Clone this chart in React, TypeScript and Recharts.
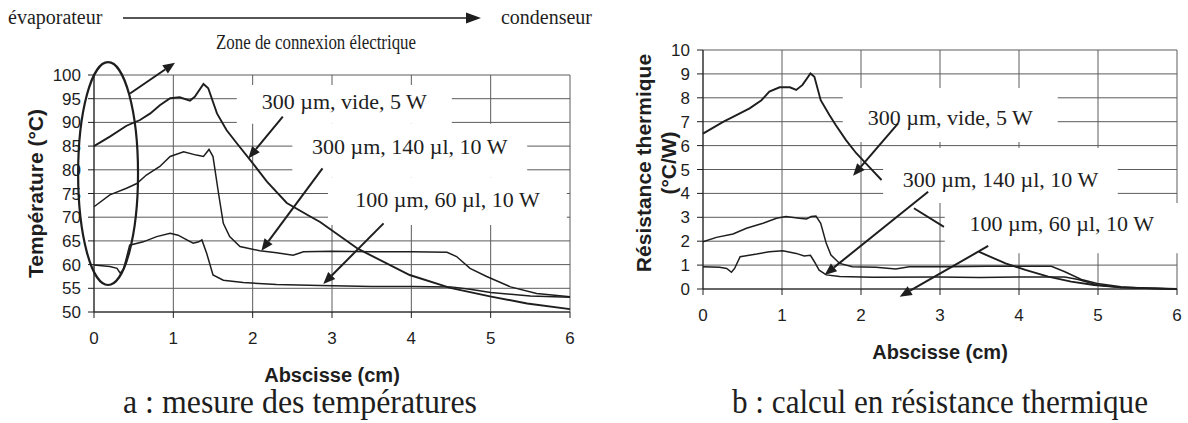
import React from 'react'
import { LineChart, Line, XAxis, YAxis, CartesianGrid, ReferenceArea, ReferenceLine } from 'recharts'

const xTicks = [0, 1, 2, 3, 4, 5, 6]
const tempTicks = [50, 55, 60, 65, 70, 75, 80, 85, 90, 95, 100]
const resTicks = [0, 1, 2, 3, 4, 5, 6, 7, 8, 9, 10]

const seriesNames = ['300 µm, vide, 5 W', '300 µm, 140 µl, 10 W', '100 µm, 60 µl, 10 W']

// a : température (°C) en fonction de l'abscisse (cm)
const tempVide: [number, number][] = [
  [0, 85.0], [0.2, 87.0], [0.41, 89.3], [0.58, 90.5], [0.71, 91.9], [0.83, 93.6], [0.96, 95.1],
  [1.08, 95.3], [1.21, 94.6], [1.27, 95.4], [1.38, 98.1], [1.44, 97.2], [1.55, 91.9], [1.67, 88.4],
  [1.8, 85.6], [2.0, 81.4], [2.18, 77.5], [2.43, 73.0], [2.72, 70.2], [2.85, 69.0], [3.33, 63.3],
  [3.98, 57.8], [4.49, 55.1], [4.99, 53.3], [5.46, 51.8], [6.0, 50.6],
]
const temp140: [number, number][] = [
  [0, 72.2], [0.2, 74.7], [0.41, 76.1], [0.54, 77.1], [0.66, 78.9], [0.83, 80.7], [0.96, 82.8],
  [1.13, 83.8], [1.29, 83.1], [1.38, 82.8], [1.45, 84.3], [1.5, 82.8], [1.57, 75.0], [1.63, 68.7],
  [1.71, 65.9], [1.84, 63.8], [2.09, 62.9], [2.3, 62.5], [2.51, 62.0], [2.64, 62.7], [3.0, 62.8],
  [3.5, 62.7], [4.0, 62.7], [4.45, 62.6], [4.57, 61.7], [4.74, 59.2], [4.95, 57.5], [5.25, 55.3],
  [5.58, 53.9], [6.0, 53.2],
]
const temp60: [number, number][] = [
  [0, 59.9], [0.2, 59.6], [0.29, 59.2], [0.33, 58.2], [0.37, 58.9], [0.45, 64.1], [0.62, 64.8],
  [0.79, 65.9], [0.96, 66.6], [1.06, 66.2], [1.17, 65.2], [1.25, 64.5], [1.32, 64.8], [1.36, 65.2],
  [1.42, 62.4], [1.5, 57.8], [1.63, 56.7], [1.88, 56.2], [2.3, 55.8], [2.85, 55.6], [3.5, 55.4],
  [4.0, 55.4], [4.5, 55.3], [4.74, 54.8], [5.0, 54.1], [5.5, 53.4], [6.0, 53.1],
]

// b : résistance thermique (°C/W) ; null = courbe masquée par les étiquettes
const resVide: [number, number | null][] = [
  [0, 6.5], [0.26, 7.0], [0.38, 7.2], [0.59, 7.56], [0.74, 7.9], [0.84, 8.26], [0.97, 8.44],
  [1.1, 8.44], [1.18, 8.33], [1.26, 8.54], [1.36, 9.02], [1.41, 8.88], [1.49, 7.9], [1.6, 7.28],
  [1.68, 6.86], [1.81, 6.23], [1.94, 5.68], [2.1, 5.12], [2.26, 4.56], [2.45, null], [2.67, 3.38],
  [3.05, 2.6], [3.25, null], [3.49, 1.56], [3.83, 1.07], [4.08, 0.8], [4.37, 0.52], [4.66, 0.31],
  [4.95, 0.17], [5.29, 0.07], [6.0, 0.0],
]
const res140: [number, number][] = [
  [0, 1.98], [0.17, 2.16], [0.38, 2.3], [0.55, 2.54], [0.76, 2.75], [0.93, 2.96], [1.05, 3.03],
  [1.22, 2.96], [1.31, 2.93], [1.37, 3.03], [1.43, 3.05], [1.49, 2.75], [1.56, 1.91], [1.62, 1.42],
  [1.73, 1.07], [1.89, 0.93], [2.19, 0.91], [2.44, 0.84], [2.61, 0.93], [3.11, 0.93], [3.6, 0.95],
  [4.0, 0.95], [4.41, 0.95], [4.58, 0.72], [4.79, 0.4], [4.99, 0.23], [5.29, 0.09], [5.59, 0.03],
  [6.0, 0.0],
]
const res60: [number, number][] = [
  [0, 0.93], [0.21, 0.91], [0.3, 0.86], [0.36, 0.7], [0.4, 0.86], [0.47, 1.35], [0.68, 1.46],
  [0.84, 1.56], [1.01, 1.6], [1.18, 1.49], [1.28, 1.38], [1.36, 1.41], [1.41, 1.14], [1.47, 0.79],
  [1.56, 0.59], [1.73, 0.52], [2.15, 0.49], [2.98, 0.5], [3.5, 0.48], [4.0, 0.5], [4.58, 0.5],
  [4.75, 0.4], [4.99, 0.17], [5.29, 0.06], [6.0, 0.0],
]

// annotations, in data units: white box [x1, x2, y1, y2], text offset, arrow from -> to
const tempNotes = [
  { text: seriesNames[0], box: [1.8, 4.51, 89.7, 97.9], off: [0, -2.5], arrow: [[2.38, 91.2], [1.945, 82.4]] },
  { text: seriesNames[1], box: [2.5, 5.46, 78.3, 89.7], off: [0, -4], arrow: [[2.88, 80.3], [2.11, 62.9]] },
  { text: seriesNames[2], box: [2.95, 5.96, 68.35, 78.3], off: [0, -1.5], arrow: [[3.65, 68.7], [2.89, 55.9]] },
]
const resNotes = [
  { text: seriesNames[0], box: [1.77, 4.49, 6.15, 8.41], off: [0, 2], arrow: [[2.47, 6.93], [1.9, 4.74]] },
  { text: seriesNames[1], box: [2.28, 5.25, 3.6, 5.9], off: [0, 4.5], arrow: [[2.85, 4.07], [1.54, 0.59]] },
  { text: seriesNames[2], box: [3.06, 6.16, 1.5, 3.6], off: [-5.5, -5], arrow: [[3.61, 1.8], [2.49, -0.32]] },
]

const SANS = '"Liberation Sans", Arial, Helvetica, sans-serif'
const SERIF = '"Liberation Serif", "Times New Roman", Times, serif'
const INK = '#1e1e1e'
const GRID = '#5c5c5c'

const toPoints = (arr: [number, number | null][]) => arr.map(([x, y]) => ({ x, y }))

const arrowShape = (p: any) => {
  const { x1, y1, x2, y2 } = p
  const a = Math.atan2(y2 - y1, x2 - x1)
  const L = 12
  const W = 5
  const bx = x2 - L * Math.cos(a)
  const by = y2 - L * Math.sin(a)
  const nx = -Math.sin(a) * W
  const ny = Math.cos(a) * W
  return (
    <g>
      <line x1={x1} y1={y1} x2={bx} y2={by} stroke={INK} strokeWidth={2} />
      <polygon points={`${x2},${y2} ${bx + nx},${by + ny} ${bx - nx},${by - ny}`} fill={INK} />
    </g>
  )
}

const ellipseShape = (p: any) => (
  <ellipse
    cx={p.x + p.width / 2}
    cy={p.y + p.height / 2}
    rx={Math.abs(p.width) / 2}
    ry={Math.abs(p.height) / 2}
    fill="none"
    stroke={INK}
    strokeWidth={2.2}
  />
)

const noteLabel = (text: string, dx: number, dy: number) => (p: any) => {
  const vb = p.viewBox
  return (
    <text
      x={vb.x + vb.width / 2 + dx}
      y={vb.y + vb.height / 2 + dy}
      textAnchor="middle"
      dominantBaseline="central"
      fontFamily={SERIF}
      fontSize={22}
      fill={INK}
    >
      {text}
    </text>
  )
}

const xTitle = (dy: number) => (p: any) => {
  const vb = p.viewBox
  return (
    <text
      x={vb.x + vb.width / 2}
      y={vb.y + dy}
      textAnchor="middle"
      dominantBaseline="central"
      fontFamily={SANS}
      fontWeight="bold"
      fontSize={20}
      fill={INK}
    >
      Abscisse (cm)
    </text>
  )
}

const yTitle = (lines: string[], dx: number, dyc: number, gap: number) => (p: any) => {
  const vb = p.viewBox
  const cy = vb.y + vb.height / 2 + dyc
  return (
    <g>
      {lines.map((t, i) => {
        const x = vb.x + dx + i * gap
        return (
          <text
            key={i}
            x={x}
            y={cy}
            transform={`rotate(-90 ${x} ${cy})`}
            textAnchor="middle"
            dominantBaseline="central"
            fontFamily={SANS}
            fontWeight="bold"
            fontSize={21}
            fill={INK}
          >
            {t}
          </text>
        )
      })}
    </g>
  )
}

const tickStyle = { fontSize: 17, fill: INK, fontFamily: SANS }

export default function App() {
  const renderBoxes = (notes: typeof tempNotes) =>
    notes.map((n, i) => (
      <ReferenceArea
        key={'box' + i}
        x1={n.box[0]}
        x2={n.box[1]}
        y1={n.box[2]}
        y2={n.box[3]}
        fill="#ffffff"
        fillOpacity={1}
        stroke="none"
        ifOverflow="visible"
        label={noteLabel(n.text, n.off[0], n.off[1])}
      />
    ))
  const renderArrows = (notes: typeof tempNotes) =>
    notes.map((n, i) => (
      <ReferenceLine
        key={'arr' + i}
        segment={[
          { x: n.arrow[0][0], y: n.arrow[0][1] },
          { x: n.arrow[1][0], y: n.arrow[1][1] },
        ]}
        shape={arrowShape}
        ifOverflow="visible"
      />
    ))

  return (
    <div style={{ position: 'absolute', left: 0, top: 0, width: 1188, height: 423, background: '#fff' }}>
      <div style={{ position: 'absolute', left: 0, top: 0 }}>
        <LineChart width={600} height={423} margin={{ top: 75, right: 30, bottom: 51, left: 34 }}>
          <CartesianGrid stroke={GRID} strokeWidth={1} />
          <XAxis
            dataKey="x"
            type="number"
            domain={[0, 6]}
            ticks={xTicks}
            interval={0}
            height={60}
            tick={tickStyle}
            tickSize={6}
            tickMargin={14}
            stroke={INK}
            label={xTitle(63)}
          />
          <YAxis
            type="number"
            domain={[50, 100]}
            ticks={tempTicks}
            interval={0}
            width={60}
            tick={tickStyle}
            tickSize={6}
            tickMargin={7}
            stroke={INK}
            label={yTitle(['Température (°C)'], 1, 0, 0)}
          />
          {renderBoxes(tempNotes)}
          <ReferenceArea x1={-0.2} x2={0.555} y1={55.7} y2={102.7} ifOverflow="visible" shape={ellipseShape} />
          <Line data={toPoints(tempVide)} dataKey="y" name={seriesNames[0]} type="linear" stroke={INK} strokeWidth={1.9} dot={false} activeDot={false} isAnimationActive={false} />
          <Line data={toPoints(temp140)} dataKey="y" name={seriesNames[1]} type="linear" stroke={INK} strokeWidth={1.5} dot={false} activeDot={false} isAnimationActive={false} />
          <Line data={toPoints(temp60)} dataKey="y" name={seriesNames[2]} type="linear" stroke={INK} strokeWidth={1.5} dot={false} activeDot={false} isAnimationActive={false} />
          {renderArrows(tempNotes)}
          <ReferenceLine segment={[{ x: 0.454, y: 96.1 }, { x: 1.021, y: 102.6 }]} shape={arrowShape} ifOverflow="visible" />
        </LineChart>
      </div>

      <div style={{ position: 'absolute', left: 600, top: 0 }}>
        <LineChart width={588} height={423} margin={{ top: 50, right: 11, bottom: 74, left: 43 }}>
          <CartesianGrid stroke={GRID} strokeWidth={1} />
          <XAxis
            dataKey="x"
            type="number"
            domain={[0, 6]}
            ticks={xTicks}
            interval={0}
            height={60}
            tick={tickStyle}
            tickSize={6}
            tickMargin={14}
            stroke={INK}
            label={xTitle(63)}
          />
          <YAxis
            type="number"
            domain={[0, 10]}
            ticks={resTicks}
            interval={0}
            width={60}
            tick={tickStyle}
            tickSize={6}
            tickMargin={7}
            stroke={INK}
            label={yTitle(['Résistance thermique', '(°C/W)'], 0, -6.5, 25)}
          />
          {renderBoxes(resNotes)}
          <Line data={toPoints(resVide)} dataKey="y" name={seriesNames[0]} type="linear" stroke={INK} strokeWidth={1.9} dot={false} activeDot={false} connectNulls={false} isAnimationActive={false} />
          <Line data={toPoints(res140)} dataKey="y" name={seriesNames[1]} type="linear" stroke={INK} strokeWidth={1.5} dot={false} activeDot={false} isAnimationActive={false} />
          <Line data={toPoints(res60)} dataKey="y" name={seriesNames[2]} type="linear" stroke={INK} strokeWidth={1.5} dot={false} activeDot={false} isAnimationActive={false} />
          {renderArrows(resNotes)}
        </LineChart>
      </div>

      <svg width={1188} height={423} style={{ position: 'absolute', left: 0, top: 0, pointerEvents: 'none' }}>
        <text x={8} y={24} fontFamily={SERIF} fontSize={20} fill={INK}>évaporateur</text>
        <line x1={123} y1={18} x2={467} y2={18} stroke={INK} strokeWidth={1.6} />
        <polygon points="481,18 466,12.5 466,23.5" fill={INK} />
        <text x={592} y={24} textAnchor="end" fontFamily={SERIF} fontSize={20} fill={INK}>condenseur</text>
        <text x={216} y={49} fontFamily={SERIF} fontSize={21} textLength={200} lengthAdjust="spacingAndGlyphs" fill={INK}>
          Zone de connexion électrique
        </text>
        <text x={123} y={413} fontFamily={SERIF} fontSize={33} textLength={354} lengthAdjust="spacingAndGlyphs" fill={INK}>
          a : mesure des températures
        </text>
        <text x={732} y={413} fontFamily={SERIF} fontSize={33} textLength={416} lengthAdjust="spacingAndGlyphs" fill={INK}>
          b : calcul en résistance thermique
        </text>
      </svg>
    </div>
  )
}
